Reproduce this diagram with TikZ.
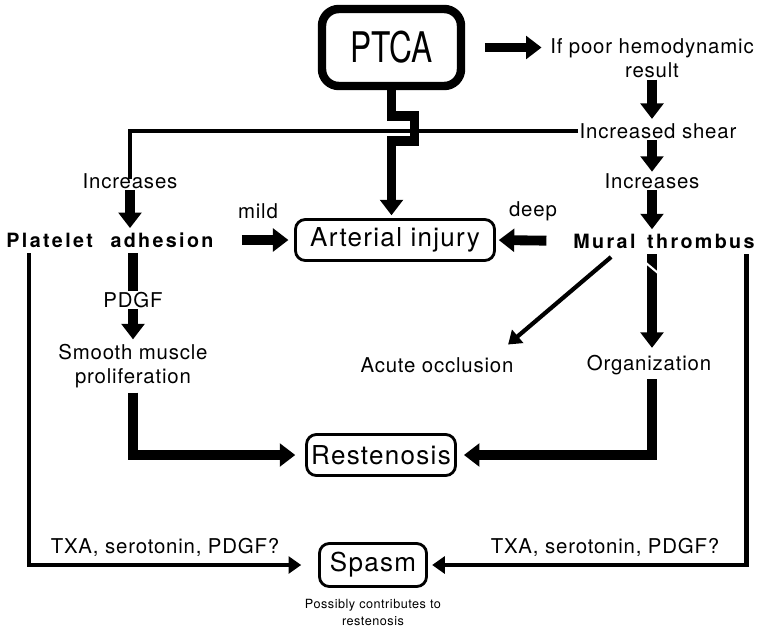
\documentclass[tikz,border=0pt]{standalone}
\usepackage{fontspec}
\setmainfont{TeX Gyre Heros}[LetterSpace=4]
\newfontfamily\narrowfont{TeX Gyre Heros}[FakeStretch=0.75]
\usetikzlibrary{arrows.meta,positioning}

\begin{document}
\begin{tikzpicture}[
    x=0.025cm, y=-0.025cm,
    lbl/.style={inner sep=1pt, align=center, font=\fontsize{14.5}{17.5}\selectfont},
    hub/.style={inner sep=1pt, font=\fontsize{14}{17}\selectfont\bfseries\addfontfeatures{LetterSpace=12}},
    box/.style={draw, rounded corners=7pt, line width=2pt, font=\fontsize{18.5}{20}\selectfont\addfontfeatures{LetterSpace=5}},
    note/.style={inner sep=1pt, align=center, font=\fontsize{9}{12}\selectfont},
    bigarrow/.style={line width=7pt, line join=miter, -{Triangle[length=11pt,width=16pt]}},
    thinline/.style={line width=3pt, line join=miter},
    thinarrow/.style={thinline, -{Triangle[length=9pt,width=12pt]}}
  ]
    \useasboundingbox (0,0) rectangle (762,633);

    % top row
    \node[draw, line width=6pt, rounded corners=12pt, minimum width=3.475cm, minimum height=1.925cm,
          font=\narrowfont\fontsize{30}{32}\selectfont] (ptca) at (391.5,47.5) {PTCA};
    \node[lbl] (hemo) at (652,58) {If poor hemodynamic\\result};
    \node[lbl] (shear) at (658,131) {Increased shear};
    \node[lbl] (incR) at (652,181) {Increases};
    \node[lbl] (incL) at (130,181) {Increases};

    % injury row
    \node[hub] (platelet) at (110,240) {Platelet\hspace{0.5em} adhesion};
    \node[hub] (mural) at (664,241) {Mural\hspace{0.2em} thrombus};
    \node[box, minimum width=4.975cm, minimum height=1.025cm] (injury) at (395,240) {Arterial injury};
    \node[lbl] (mild) at (258,211) {mild};
    \node[lbl] (deep) at (533,211) {deep};

    % consequences
    \node[lbl] (pdgf) at (133,300) {PDGF};
    \node[lbl] (smooth) at (133,366) {Smooth muscle\\proliferation};
    \node[lbl] (acute) at (437,365) {Acute occlusion};
    \node[lbl] (organ) at (649,365) {Organization};
    \node[box, minimum width=3.475cm, minimum height=1.025cm] (resten) at (381,455) {Restenosis};
    \node[box, minimum width=2.675cm, minimum height=1.075cm] (spasm) at (373,565) {Spasm};
    \node[lbl] (txaL) at (165,547) {TXA, serotonin, PDGF?};
    \node[lbl] (txaR) at (605,547) {TXA, serotonin, PDGF?};
    \node[note, below=7pt of spasm] (maybe) {Possibly contributes to\\restenosis};

    % shear feeds back to the left column
    \draw[thinline] (shear.west) -- (incL.north |- shear.west) -- ([yshift=-5pt]incL.north);

    \draw[bigarrow, shorten <=14pt, shorten >=5pt] (ptca.east) -- (hemo.west |- ptca.east);
    \draw[bigarrow, shorten >=2pt] (hemo.south) -- (hemo.south |- shear.north);
    \draw[bigarrow] (incR.north |- shear.south) -- (incR.north);
    \draw[bigarrow, shorten >=2pt] (incR.south) -- (incR.south |- mural.north);
    % PTCA hops over the shear line
    \draw[bigarrow] (ptca.south) -- ++(0,26) -- ++(23,0) -- ++(0,25) -- ++(-23,0)
      -- ([yshift=2pt]ptca.south |- injury.north);

    \draw[bigarrow, shorten <=19pt, shorten >=4pt] (platelet.east) -- (injury.west);
    \draw[bigarrow, shorten <=18pt, shorten >=2pt] (mural.west) -- (injury.east);
    \draw[bigarrow, shorten >=2pt] (incL.south) -- (incL.south |- platelet.north);

    % left column
    \draw[line width=7pt, shorten <=3pt] (pdgf.north |- platelet.south) -- (pdgf.north);
    \draw[bigarrow, shorten >=2pt] (pdgf.south) -- (pdgf.south |- smooth.north);
    \draw[bigarrow, shorten <=2pt, shorten >=7pt] (smooth.south) |- (resten.west);

    % right column
    \draw[thinarrow] ([xshift=28pt,yshift=-5pt]mural.south west) -- ([xshift=-5pt,yshift=8pt]acute.north east);
    \draw[bigarrow, shorten <=3pt, shorten >=4pt] (mural.south -| incR) -- (organ.north -| incR);
    \draw[white, line width=1.5pt] (646,263) -- (658,273);
    \draw[bigarrow, shorten <=2pt, shorten >=5pt] (organ.south -| incR) |- (resten.east);

    % outer paths to spasm
    \draw[thinarrow, shorten >=12pt] ([xshift=17pt,yshift=-3pt]platelet.south west) |- (spasm.west);
    \draw[thinarrow, shorten >=3pt] ([xshift=-7pt,yshift=-3pt]mural.south east) |- (spasm.east);
  \end{tikzpicture}
\end{document}
